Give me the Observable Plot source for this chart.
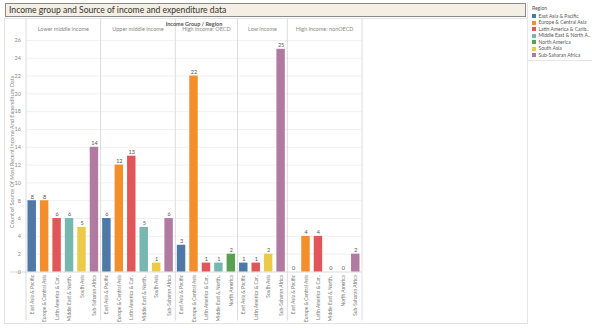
<!DOCTYPE html>
<html><head><meta charset="utf-8">
<script src="https://cdn.jsdelivr.net/npm/d3@7"></script>
<script src="https://cdn.jsdelivr.net/npm/@observablehq/plot@0.6"></script>
<style>
body{margin:0;width:592px;height:328px;overflow:hidden;background:#fff;font-family:Lato,"Open Sans",sans-serif;position:relative}
#title{position:absolute;left:5px;top:3px;width:516px;height:12px;background:#f4eee4;border:1px solid #8a8a8a;font-size:8.6px;line-height:12px;color:#333;padding-left:3px;white-space:nowrap}
#panel{position:absolute;left:4px;top:18px;width:522px;height:304px;border:1px solid #e4e4e4}
#panel svg{position:absolute;left:0;top:0;overflow:visible}
#legend{position:absolute;left:527px;top:2px;width:64px;height:58px;border-left:1px solid #e4e4e4;border-bottom:1px solid #e4e4e4;font-size:5px;color:#555}
#legend .hd{position:absolute;left:4px;top:3px}
#legend .it{position:absolute;left:4px;height:5px;line-height:5px;white-space:nowrap}
#legend .sw{display:inline-block;width:4px;height:4px;margin-right:2.5px;vertical-align:top;margin-top:0.5px}
</style></head>
<body>
<div id="title">Income group and Source of income and expenditure data</div>
<div id="panel"></div>
<div id="legend"></div>
<script>
const incomeGroups = ["Lower middle income", "Upper middle income", "High income: OECD", "Low income", "High income: nonOECD"];
const regions = ["East Asia & Pacific", "Europe & Central Asia", "Latin America & Caribbean", "Middle East & North Africa", "North America", "South Asia", "Sub-Saharan Africa"];
const regionColors = ["#4e79a7", "#f28e2b", "#e15759", "#76b7b2", "#59a14f", "#edc948", "#b07aa1"];
const axisRegionLabels = ["East Asia & Pacific", "Europe & Central Asia", "Latin America & Car..", "Middle East & North..", "North America", "South Asia", "Sub-Saharan Africa"];
const legendRegionLabels = ["East Asia & Pacific", "Europe & Central Asia", "Latin America & Carib..", "Middle East & North A..", "North America", "South Asia", "Sub-Saharan Africa"];

const barGroup = [
  "Lower middle income","Lower middle income","Lower middle income","Lower middle income","Lower middle income","Lower middle income",
  "Upper middle income","Upper middle income","Upper middle income","Upper middle income","Upper middle income","Upper middle income",
  "High income: OECD","High income: OECD","High income: OECD","High income: OECD","High income: OECD",
  "Low income","Low income","Low income","Low income",
  "High income: nonOECD","High income: nonOECD","High income: nonOECD","High income: nonOECD","High income: nonOECD","High income: nonOECD"
];
const barRegion = [
  "East Asia & Pacific","Europe & Central Asia","Latin America & Caribbean","Middle East & North Africa","South Asia","Sub-Saharan Africa",
  "East Asia & Pacific","Europe & Central Asia","Latin America & Caribbean","Middle East & North Africa","South Asia","Sub-Saharan Africa",
  "East Asia & Pacific","Europe & Central Asia","Latin America & Caribbean","Middle East & North Africa","North America",
  "East Asia & Pacific","Latin America & Caribbean","South Asia","Sub-Saharan Africa",
  "East Asia & Pacific","Europe & Central Asia","Latin America & Caribbean","Middle East & North Africa","North America","Sub-Saharan Africa"
];
const barCount = [8, 8, 6, 6, 5, 14, 6, 12, 13, 5, 1, 6, 3, 22, 1, 1, 2, 1, 1, 2, 25, 0, 4, 4, 0, 0, 2];
const yTicks = [0, 2, 4, 6, 8, 10, 12, 14, 16, 18, 20, 22, 24, 26];

const idx = d3.range(barCount.length);
const groups = incomeGroups.map(g => {
  const ii = idx.filter(i => barGroup[i] === g);
  return {g, x1: ii[0], x2: ii[ii.length - 1] + 1};
});
const boundaries = [0, ...groups.map(d => d.x2)];
const axisLabel = Object.fromEntries(regions.map((r, k) => [r, axisRegionLabels[k]]));

const chart = Plot.plot({
  width: 522, height: 304,
  marginLeft: 20.5, marginRight: 165.5, marginTop: 12, marginBottom: 51.5,
  style: {fontFamily: "Lato, 'Open Sans', sans-serif", background: "transparent", overflow: "visible"},
  x: {domain: [0, idx.length], axis: null},
  y: {domain: [0, 27], axis: null},
  color: {domain: regions, range: regionColors},
  marks: [
    Plot.ruleY(yTicks.filter(t => t > 0), {stroke: "#f0f0f0"}),
    Plot.ruleX(boundaries, {stroke: "#dcdcdc", insetTop: -12, insetBottom: -49}),
    Plot.ruleY([0], {stroke: "#dcdcdc", insetLeft: -16}),
    Plot.rect(idx, {x1: i => i, x2: i => i + 1, y1: 0, y2: i => barCount[i], fill: i => barRegion[i], insetLeft: 2, insetRight: 2}),
    Plot.text(idx, {x: i => i + 0.5, y: i => barCount[i], text: i => String(barCount[i]), dy: -4, fontSize: 5.5, fill: "#555"}),
    Plot.text(idx, {x: i => i + 0.5, y: 0, text: i => axisLabel[barRegion[i]], rotate: -90, textAnchor: "end", dy: 3, fontSize: 4.9, fill: "#777"}),
    Plot.text(groups, {x: d => (d.x1 + d.x2) / 2, frameAnchor: "top", text: "g", dy: -4, fontSize: 5.5, fill: "#888"}),
    Plot.text(["Income Group / Region"], {x: () => idx.length / 2, frameAnchor: "top", text: d => d, dy: -9.5, fontSize: 5.5, fontWeight: "bold", fill: "#555"}),
    Plot.axisY(yTicks, {tickSize: 0, tickPadding: 5, fontSize: 5.5, fill: "#888", label: "Count of Source Of Most Recent Income And Expenditure Data", labelAnchor: "center", labelOffset: 16, labelArrow: "none"})
  ]
});
document.getElementById("panel").appendChild(chart);

const leg = document.getElementById("legend");
leg.innerHTML = `<div class="hd">Region</div>` + regions.map((r, k) =>
  `<div class="it" style="top:${11.5 + k * 6.55}px"><span class="sw" style="background:${regionColors[k]}"></span>${legendRegionLabels[k]}</div>`).join("");
</script>
</body></html>
